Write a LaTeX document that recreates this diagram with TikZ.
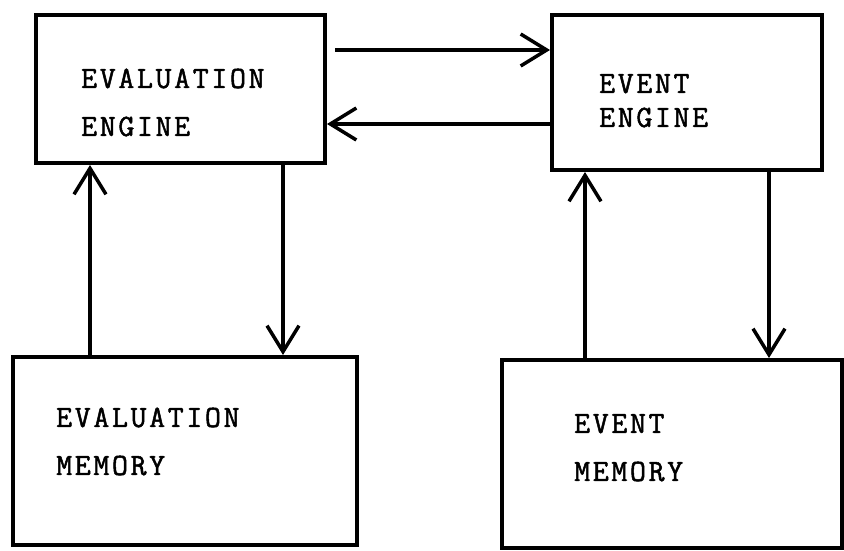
\documentclass[tikz,border=0pt]{standalone}
\usepackage{fontspec}
\newfontfamily\typefont[FakeBold=1.6, LetterSpace=8.5]{Latin Modern Mono}
\usetikzlibrary{arrows.meta}

\begin{document}
\begin{tikzpicture}[x=1pt, y=1pt,
    box/.style={draw, line width=4pt, rectangle, inner sep=0pt},
    txt/.style={anchor=base west, align=left, inner sep=0pt, font=\typefont\fontsize{31}{48}\selectfont},
    flow/.style={line width=3.5pt, -{Straight Barb[length=26pt, width=32pt]}}]
\useasboundingbox (0,0) rectangle (844,551);

% Draw boxes
\node[box, minimum width=289pt, minimum height=148pt] (evaleng) at (180.5,462) {};
\node[box, minimum width=270pt, minimum height=155pt] (evteng) at (687,458.5) {};
\node[box, minimum width=344pt, minimum height=188pt] (evalmem) at (185,100) {};
\node[box, minimum width=340pt, minimum height=188pt] (evtmem) at (672,97) {};

% Draw labels (base is on the last line)
\node[txt] (evalengtxt) at ([shift={(47pt,-123pt)}]evaleng.north west) {EVALUATION\\ENGINE};
\node[txt] (evtengtxt) at ([shift={(49pt,-114pt)}]evteng.north west) {EVENT\\[-14pt]ENGINE};
\node[txt] (evalmemtxt) at ([shift={(45pt,-120pt)}]evalmem.north west) {EVALUATION\\MEMORY};
\node[txt] (evtmemtxt) at ([shift={(74pt,-123pt)}]evtmem.north west) {EVENT\\MEMORY};

% Draw engine links
\draw[flow] ([xshift=8pt, yshift=39pt]evaleng.east) -- ([yshift=42.5pt]evteng.west);
\draw[flow] ([yshift=-31.5pt]evteng.west) -- ([yshift=-35pt]evaleng.east);

% Draw memory links
\draw[flow] ([xshift=-95pt]evalmem.north) -- ([xshift=-90.5pt]evaleng.south);
\draw[flow] ([xshift=102.5pt]evaleng.south) -- ([xshift=98pt]evalmem.north);
\draw[flow] ([xshift=-87pt]evtmem.north) -- ([xshift=-102pt]evteng.south);
\draw[flow] ([xshift=82pt]evteng.south) -- ([xshift=97pt]evtmem.north);
\end{tikzpicture}
\end{document}
